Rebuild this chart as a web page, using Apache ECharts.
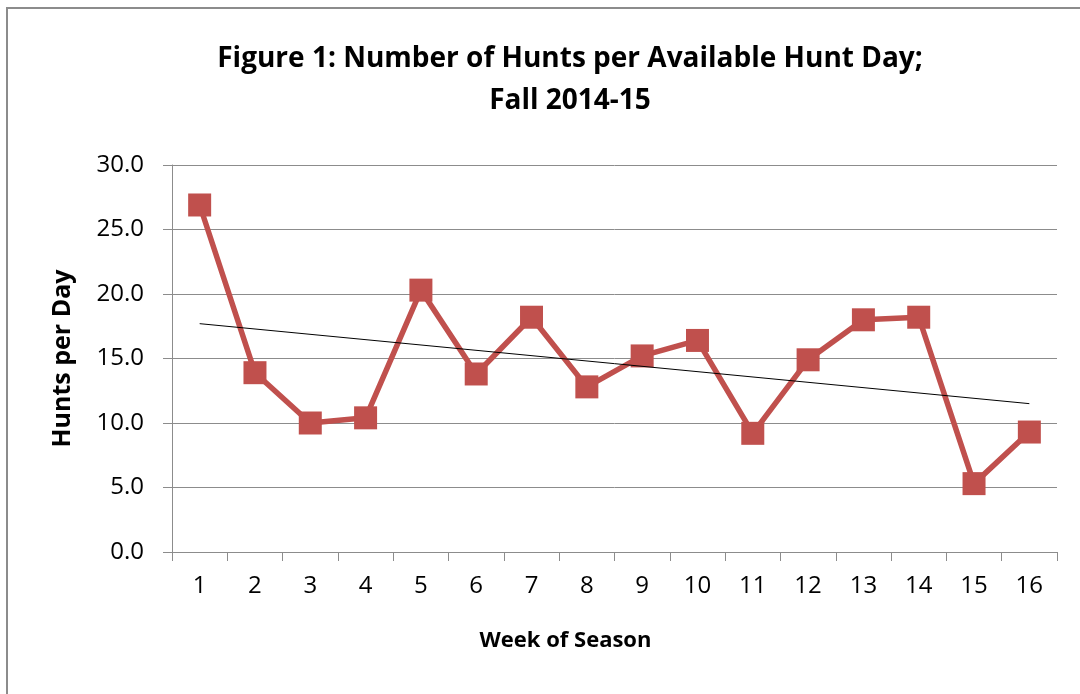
<!DOCTYPE html>
<html>
<head>
<meta charset="utf-8">
<script src="https://cdn.jsdelivr.net/npm/echarts@6/dist/echarts.min.js"></script>
<style>
    html, body { margin: 0; padding: 0; background: #fff; }
    #chart { width: 1080px; height: 694px; }
</style>
</head>
<body>
<div id="chart"></div>
<script>
var weeks = ['1', '2', '3', '4', '5', '6', '7', '8', '9', '10', '11', '12', '13', '14', '15', '16'];
var huntsPerDay = [26.9, 13.9, 10.0, 10.4, 20.3, 13.8, 18.2, 12.8, 15.2, 16.4, 9.2, 14.9, 18.0, 18.2, 5.3, 9.3];
// linear trend line, ends (week 1 and week 16)
var trendEnds = [17.7, 11.5];
var yTicks = { min: 0, max: 30, interval: 5 };

(function () {
    var chart = echarts.init(document.getElementById('chart'));
    var font = '"Open Sans", "Noto Sans", sans-serif';

    var trendData = weeks.map(function (w, i) {
        if (i === 0) return trendEnds[0];
        if (i === weeks.length - 1) return trendEnds[1];
        return null;
    });

    var option = {
        backgroundColor: '#fff',
        animation: false,

        title: {
            text: 'Figure 1: Number of Hunts per Available Hunt Day;\nFall 2014-15',
            left: 565,
            top: 33,
            textAlign: 'center',
            textStyle: {
                fontFamily: font,
                fontSize: 28,
                fontWeight: 'bold',
                color: '#000',
                lineHeight: 42
            }
        },

        graphic: [
            {
                type: 'rect',
                shape: { x: 7, y: 8, width: 1300, height: 1000 },
                style: { fill: null, stroke: '#8c8c8c', lineWidth: 2 },
                silent: true
            }
        ],

        grid: {
            left: 172,
            right: 23,
            top: 165,
            bottom: 142
        },

        xAxis: {
            type: 'category',
            data: weeks,
            boundaryGap: true,
            name: 'Week of Season',
            nameLocation: 'middle',
            nameGap: 78,
            nameTextStyle: {
                fontFamily: font,
                fontSize: 22,
                fontWeight: 'bold',
                color: '#000',
                padding: [0, 98, 0, 0]
            },
            axisLine: { lineStyle: { color: '#8c8c8c', width: 1 } },
            axisTick: { show: true, length: 9, alignWithLabel: false, lineStyle: { color: '#8c8c8c' } },
            axisLabel: {
                margin: 22,
                fontFamily: font,
                fontSize: 24,
                color: '#000'
            },
            splitLine: { show: false }
        },

        yAxis: {
            type: 'value',
            min: yTicks.min,
            max: yTicks.max,
            interval: yTicks.interval,
            name: 'Hunts per Day',
            nameLocation: 'middle',
            nameGap: 97,
            nameTextStyle: {
                fontFamily: font,
                fontSize: 25,
                fontWeight: 'bold',
                color: '#000'
            },
            axisLine: { show: true, lineStyle: { color: '#8c8c8c', width: 1 } },
            axisTick: { show: true, length: 9, lineStyle: { color: '#8c8c8c' } },
            axisLabel: {
                margin: 28,
                fontFamily: font,
                fontSize: 24,
                color: '#000',
                formatter: function (v) { return v.toFixed(1); }
            },
            splitLine: { show: true, lineStyle: { color: '#8c8c8c', width: 1 } }
        },

        series: [
            {
                name: 'Hunts per Day',
                type: 'line',
                data: huntsPerDay,
                symbol: 'rect',
                symbolSize: 23,
                lineStyle: { color: '#c0504d', width: 5.5 },
                itemStyle: { color: '#c0504d' },
                z: 3
            },
            {
                name: 'Trend',
                type: 'line',
                data: trendData,
                connectNulls: true,
                showSymbol: false,
                symbol: 'none',
                lineStyle: { color: '#000', width: 1 },
                z: 4
            }
        ]
    };

    chart.setOption(option);
})();
</script>
</body>
</html>
